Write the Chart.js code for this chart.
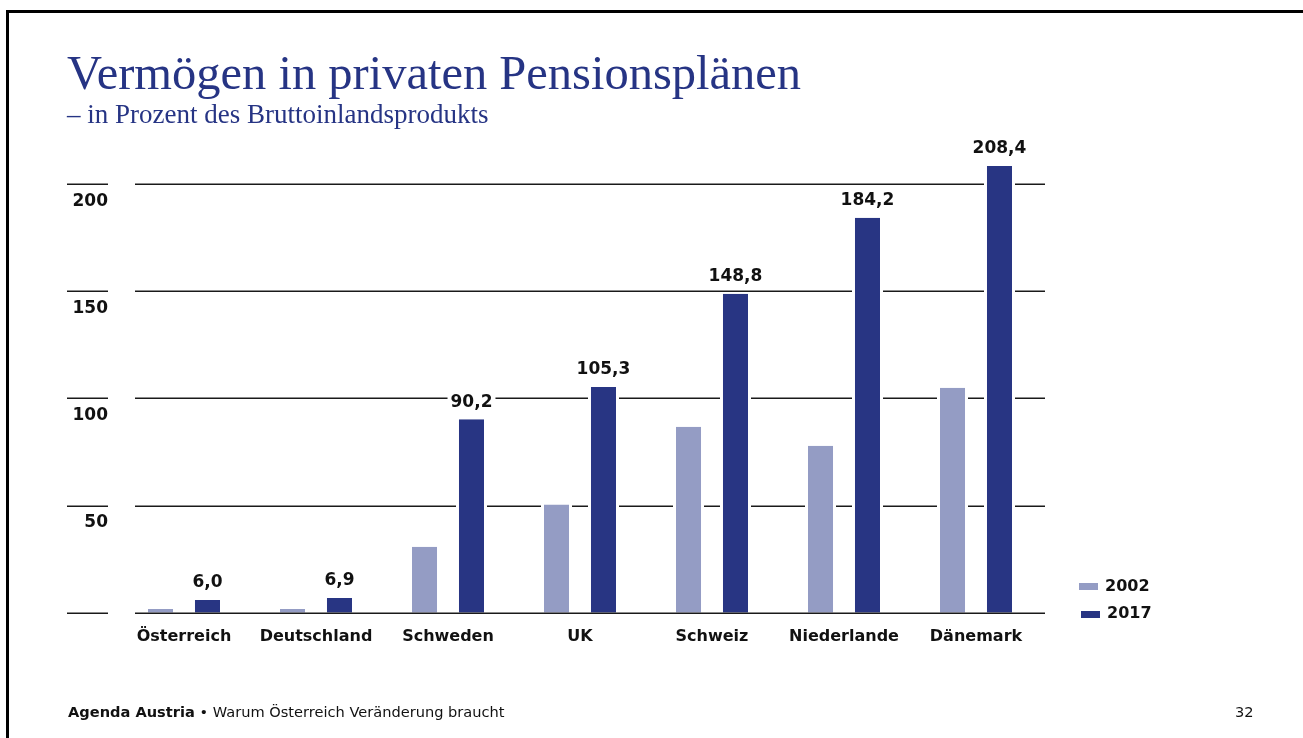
<!DOCTYPE html>
<html lang="de">
<head>
<meta charset="utf-8">
<title>Vermögen in privaten Pensionsplänen</title>
<script src="https://cdn.jsdelivr.net/npm/chart.js@4.4.1/dist/chart.umd.min.js"></script>
<style>
  html, body { margin: 0; padding: 0; background: #fff; }
  #seite { position: relative; width: 1303px; height: 738px; overflow: hidden; }
  #rahmen { position: absolute; left: 6px; top: 10px; right: -10px; bottom: -10px;
            border-top: 3px solid #000; border-left: 3px solid #000; }
  #titel { position: absolute; left: 67px; top: 47px; margin: 0;
           font-family: "Liberation Serif", serif; font-weight: normal;
           font-size: 48.5px; line-height: 52px; color: #263484; white-space: nowrap; }
  #untertitel { position: absolute; left: 67px; top: 99px; margin: 0;
                font-family: "Liberation Serif", serif; font-size: 27px;
                line-height: 30px; color: #263484; white-space: nowrap; }
  #fuss { position: absolute; left: 68px; top: 703px; font-family: "DejaVu Sans", sans-serif;
          font-size: 14.6px; color: #111; white-space: nowrap; }
  #fuss b { font-weight: bold; }
  #seitenzahl { position: absolute; left: 1235px; top: 703px; font-family: "DejaVu Sans", sans-serif;
                font-size: 14.6px; color: #111; }
  #grafik { position: absolute; left: 0; top: 0; }
</style>
</head>
<body>
<div id="seite">
  <div id="rahmen"></div>
  <canvas id="grafik" width="1303" height="738"></canvas>
  <h1 id="titel">Vermögen in privaten Pensionsplänen</h1>
  <div id="untertitel">– in Prozent des Bruttoinlandsprodukts</div>
  <div id="fuss"><b>Agenda Austria</b> • Warum Österreich Veränderung braucht</div>
  <div id="seitenzahl">32</div>
</div>
<script>
// Daten
var laender = ["Österreich", "Deutschland", "Schweden", "UK", "Schweiz", "Niederlande", "Dänemark"];
var werte2002 = [1.8, 1.8, 30.8, 50.5, 86.7, 77.9, 104.9];
var werte2017 = [6.0, 6.9, 90.2, 105.3, 148.8, 184.2, 208.4];
var yTicks = [50, 100, 150, 200];

var farbeHell = "#949cc4";
var farbeDunkel = "#283583";
var schrift = "DejaVu Sans";

function zahlDeutsch(v) {
    return v.toFixed(1).replace(".", ",");
}

// Gitterlinien und Achsenbeschriftung selbst zeichnen
var gitterPlugin = {
    id: "gitter",
    beforeDatasetsDraw: function(chart) {
        var ctx = chart.ctx;
        var y = chart.scales.y;
        ctx.save();
        ctx.strokeStyle = "#1a1a1a";
        ctx.lineWidth = 1.5;
        yTicks.forEach(function(t) {
            var py = Math.round(y.getPixelForValue(t)) + 0.25;
            ctx.beginPath();
            ctx.moveTo(135, py); ctx.lineTo(1045, py);
            ctx.moveTo(67, py); ctx.lineTo(108, py);
            ctx.stroke();
        });
        ctx.fillStyle = "#111";
        ctx.font = "bold 17px '" + schrift + "'";
        ctx.textAlign = "right";
        ctx.textBaseline = "middle";
        yTicks.forEach(function(t) {
            ctx.fillText(String(t), 108, y.getPixelForValue(t) + 17.5);
        });
        ctx.restore();
    },
    afterDatasetsDraw: function(chart) {
        var ctx = chart.ctx;
        var y = chart.scales.y;
        ctx.save();
        // Nulllinie
        ctx.strokeStyle = "#1a1a1a";
        ctx.lineWidth = 1.5;
        var p0 = Math.round(y.getPixelForValue(0)) + 0.25;
        ctx.beginPath();
        ctx.moveTo(135, p0); ctx.lineTo(1045, p0);
        ctx.moveTo(67, p0); ctx.lineTo(108, p0);
        ctx.stroke();

        // Werte über den Balken 2017
        ctx.font = "bold 17px '" + schrift + "'";
        ctx.textAlign = "center";
        ctx.textBaseline = "middle";
        var meta = chart.getDatasetMeta(1);
        meta.data.forEach(function(bar, i) {
            var txt = zahlDeutsch(werte2017[i]);
            var w = ctx.measureText(txt).width;
            var ty = bar.y - 17;
            ctx.fillStyle = "#fff";
            ctx.fillRect(bar.x - w / 2 - 3, ty - 8, w + 6, 16);
            ctx.fillStyle = "#111";
            ctx.fillText(txt, bar.x, ty);
        });

        // Legende
        ctx.font = "bold 16px '" + schrift + "'";
        ctx.textAlign = "left";
        ctx.fillStyle = farbeHell;
        ctx.fillRect(1079, 583, 19, 7);
        ctx.fillStyle = farbeDunkel;
        ctx.fillRect(1081, 611, 19, 7);
        ctx.fillStyle = "#111";
        ctx.fillText("2002", 1105, 587);
        ctx.fillText("2017", 1107, 614);
        ctx.restore();
    }
};

var ctx = document.getElementById("grafik").getContext("2d");

new Chart(ctx, {
    type: "bar",
    data: {
        labels: laender,
        datasets: [
            {
                label: "2002",
                data: werte2002,
                backgroundColor: farbeHell,
                borderColor: "#fff",
                borderWidth: { left: 3, right: 3, top: 0, bottom: 0 },
                borderSkipped: false,
                barPercentage: 0.66,
                categoryPercentage: 0.712
            },
            {
                label: "2017",
                data: werte2017,
                backgroundColor: farbeDunkel,
                borderColor: "#fff",
                borderWidth: { left: 3, right: 3, top: 0, bottom: 0 },
                borderSkipped: false,
                barPercentage: 0.66,
                categoryPercentage: 0.712
            }
        ]
    },
    options: {
        responsive: false,
        animation: false,
        layout: { padding: { left: 118, right: 261, top: 141, bottom: 78 } },
        plugins: {
            legend: { display: false },
            tooltip: { enabled: false }
        },
        scales: {
            x: {
                grid: { display: false, drawTicks: false },
                border: { display: false },
                ticks: {
                    color: "#111",
                    padding: 14,
                    font: { family: schrift, size: 16, weight: "bold" }
                }
            },
            y: {
                display: false,
                min: 0,
                max: 220
            }
        }
    },
    plugins: [gitterPlugin]
});
</script>
</body>
</html>
